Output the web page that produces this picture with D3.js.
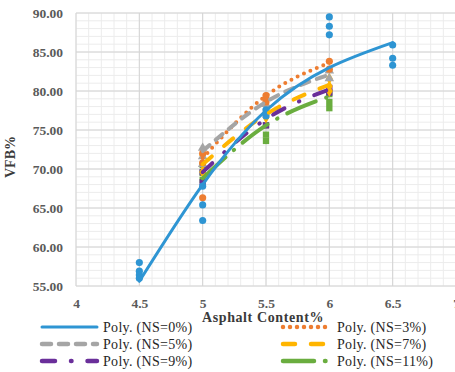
<!DOCTYPE html>
<html>
<head>
<meta charset="utf-8">
<script src="https://cdn.jsdelivr.net/npm/d3@7"></script>
<style>
  body { margin: 0; background: #fff; }
  text { font-family: "Liberation Serif", "Times New Roman", serif; }
</style>
</head>
<body>
<div id="chart"></div>
<script>
// Data
const xTicks = [4, 4.5, 5, 5.5, 6, 6.5, 7];
const yTicks = [55, 60, 65, 70, 75, 80, 85, 90];

// scatter points [asphalt content, VFB]
const pointsNS0 = [[4.5, 58.0], [4.5, 56.9], [4.5, 56.4], [4.5, 56.0],
  [5, 67.8], [5, 65.4], [5, 63.4], [5.5, 77.6], [5.5, 76.8],
  [6, 89.5], [6, 88.3], [6, 87.2], [6.5, 85.9], [6.5, 84.2], [6.5, 83.3]];
const pointsNS3 = [[5, 72.0], [5, 70.8], [5, 66.3], [5.5, 79.4], [5.5, 78.6],
  [6, 83.8], [6, 82.8]];
const pointsNS5 = [[5, 72.7], [5, 71.6], [5, 70.6], [5.5, 79.2], [5.5, 78.3],
  [6, 82.6], [6, 81.6]];
const pointsNS7 = [[5, 71.8], [5, 70.6], [5, 69.6], [5.5, 77.6], [5.5, 76.6],
  [6, 81.6], [6, 80.6], [6, 80.0]];
const pointsNS9 = [[5, 69.6], [5, 68.3], [5.5, 77.0], [5.5, 75.6],
  [6, 80.4], [6, 79.8]];
const pointsNS11 = [[5, 70.5], [5, 69.5], [5, 68.6], [5.5, 75.6], [5.5, 74.4],
  [5.5, 73.6], [6, 79.6], [6, 78.6], [6, 77.8]];

// polynomial trendlines (values read at each content level)
const trendX0 = [4.5, 5, 5.5, 6, 6.5];
const trendX = [5, 5.5, 6];
const trendNS0 = [55.6, 68.0, 77.5, 83.0, 86.2];
const trendNS3 = [71.4, 79.4, 83.6];
const trendNS5 = [72.3, 78.6, 82.1];
const trendNS7 = [70.6, 77.0, 80.8];
const trendNS9 = [69.6, 76.4, 80.2];
const trendNS11 = [68.8, 75.6, 79.3];

const series = [
  { name: "Poly. (NS=0%)", color: "#2e95d3", points: pointsNS0, tx: trendX0, ty: trendNS0,
    dash: null, symbol: d3.symbolCircle, col: 0, row: 0 },
  { name: "Poly. (NS=3%)", color: "#ed7d31", points: pointsNS3, tx: trendX, ty: trendNS3,
    dash: "0 7", symbol: d3.symbolCircle, col: 1, row: 0 },
  { name: "Poly. (NS=5%)", color: "#a5a5a5", points: pointsNS5, tx: trendX, ty: trendNS5,
    dash: "9 8", symbol: d3.symbolTriangle, col: 0, row: 1 },
  { name: "Poly. (NS=7%)", color: "#ffb500", points: pointsNS7, tx: trendX, ty: trendNS7,
    dash: "12 16", symbol: d3.symbolDiamond, col: 1, row: 1 },
  { name: "Poly. (NS=9%)", color: "#6a2f9a", points: pointsNS9, tx: trendX, ty: trendNS9,
    dash: "13 16 0.5 16", symbol: d3.symbolSquare, col: 0, row: 2 },
  { name: "Poly. (NS=11%)", color: "#6aad3f", points: pointsNS11, tx: trendX, ty: trendNS11,
    dash: "31 11 0.5 11", symbol: d3.symbolSquare, col: 1, row: 2 },
];

// Dimensions
const width = 455;
const height = 372;
const plot = { left: 76, right: 456, top: 13, bottom: 286 };

const svg = d3.select("#chart")
  .append("svg")
  .attr("width", width)
  .attr("height", height);

// Scales
const xScale = d3.scaleLinear().domain([4, 7]).range([plot.left, plot.right]);
const yScale = d3.scaleLinear().domain([55, 90]).range([plot.bottom, plot.top]);

// minor grid
const grid = svg.append("g");
grid.selectAll(".minor-x")
  .data(d3.range(4, 7.001, 0.1))
  .join("line")
  .attr("x1", (d) => xScale(d)).attr("x2", (d) => xScale(d))
  .attr("y1", plot.top).attr("y2", plot.bottom)
  .attr("stroke", "#ececec");
grid.selectAll(".minor-y")
  .data(d3.range(55, 90.001, 1))
  .join("line")
  .attr("x1", plot.left).attr("x2", plot.right)
  .attr("y1", (d) => yScale(d)).attr("y2", (d) => yScale(d))
  .attr("stroke", "#ececec");
// major grid
grid.selectAll(".major-x")
  .data(xTicks)
  .join("line")
  .attr("x1", (d) => xScale(d)).attr("x2", (d) => xScale(d))
  .attr("y1", plot.top).attr("y2", plot.bottom)
  .attr("stroke", "#d4d4d4");
grid.selectAll(".major-y")
  .data(yTicks)
  .join("line")
  .attr("x1", plot.left).attr("x2", plot.right)
  .attr("y1", (d) => yScale(d)).attr("y2", (d) => yScale(d))
  .attr("stroke", "#d4d4d4");

// Axes
const yAxis = d3.axisLeft(yScale).tickValues(yTicks).tickFormat(d3.format(".2f"))
  .tickSize(0).tickPadding(13);
const gY = svg.append("g").attr("transform", `translate(${plot.left},0)`).call(yAxis);
const xAxis = d3.axisBottom(xScale).tickValues(xTicks).tickFormat((d) => d)
  .tickSize(0).tickPadding(12);
const gX = svg.append("g").attr("transform", `translate(0,${plot.bottom})`).call(xAxis);
[gX, gY].forEach((g) => {
  g.attr("font-family", "'Liberation Serif', serif");
  g.select(".domain").remove();
  g.selectAll(".tick text")
    .style("font-family", "'Liberation Serif', 'Times New Roman', serif")
    .style("font-size", "13.5px")
    .style("font-weight", "bold")
    .attr("fill", "#5a5a5a");
});

// axis titles
svg.append("text")
  .attr("x", 263).attr("y", 322)
  .attr("text-anchor", "middle")
  .style("font-size", "14px").style("font-weight", "bold")
  .attr("fill", "#3a3a3a")
  .style("letter-spacing", "0.6px")
  .text("Asphalt Content%");
svg.append("text")
  .attr("transform", "translate(15,157) rotate(-90)")
  .attr("text-anchor", "middle")
  .style("font-size", "14px").style("font-weight", "bold")
  .attr("fill", "#3a3a3a")
  .text("VFB%");

// clip to plot
svg.append("clipPath").attr("id", "clip")
  .append("rect")
  .attr("x", plot.left).attr("y", plot.top)
  .attr("width", plot.right - plot.left).attr("height", plot.bottom - plot.top);

const ctr = svg.append("g").attr("clip-path", "url(#clip)");

// scatter points
series.slice().reverse().forEach((s) => {
  ctr.append("g")
    .selectAll("path")
    .data(s.points)
    .join("path")
    .attr("transform", (d) => `translate(${xScale(d[0])},${yScale(d[1])})`)
    .attr("d", d3.symbol().type(s.symbol).size(40))
    .attr("fill", s.color);
});

// trendlines
const lineGenerator = d3.line()
  .x((d) => xScale(d[0]))
  .y((d) => yScale(d[1]))
  .curve(d3.curveNatural);

series.slice(1).concat(series.slice(0, 1)).forEach((s) => {
  ctr.append("path")
    .datum(d3.zip(s.tx, s.ty))
    .attr("d", lineGenerator)
    .attr("fill", "none")
    .attr("stroke", s.color)
    .attr("stroke-width", s.dash ? 4 : 3)
    .attr("stroke-linecap", "round")
    .attr("stroke-dasharray", s.dash);
});

// Legend
const legendCols = [{ x1: 42, x2: 97, tx: 103 }, { x1: 283, x2: 330, tx: 337 }];
const legendRows = [327, 344, 361];
const legend = svg.append("g");
series.forEach((s) => {
  const c = legendCols[s.col];
  const y = legendRows[s.row];
  legend.append("line")
    .attr("x1", c.x1).attr("x2", c.x2)
    .attr("y1", y).attr("y2", y)
    .attr("stroke", s.color)
    .attr("stroke-width", s.dash ? 4.5 : 3)
    .attr("stroke-linecap", "round")
    .attr("stroke-dasharray", s.dash);
  legend.append("text")
    .attr("x", c.tx).attr("y", y)
    .attr("dy", "0.35em")
    .style("font-size", "14px")
    .attr("fill", "#262626")
    .style("letter-spacing", "0.3px")
    .text(s.name);
});
</script>
</body>
</html>
